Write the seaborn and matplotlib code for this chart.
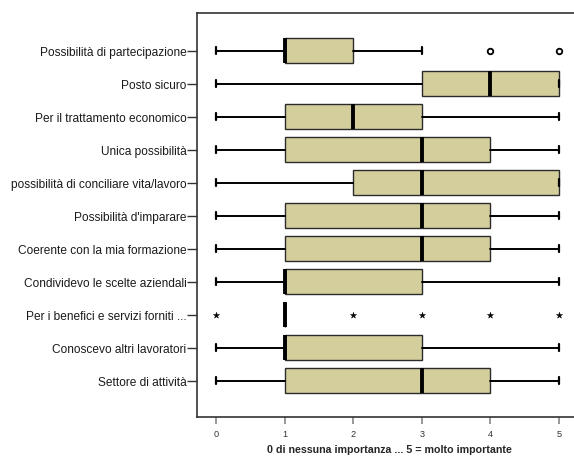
import matplotlib
matplotlib.use("Agg")
import matplotlib.pyplot as plt
import seaborn as sns

# Motivi della scelta del lavoro: sintesi a cinque numeri per ogni voce (scala 0-5)
categories = [
    "Possibilità di partecipazione",
    "Posto sicuro",
    "Per il trattamento economico",
    "Unica possibilità",
    "possibilità di conciliare vita/lavoro",
    "Possibilità d'imparare",
    "Coerente con la mia formazione",
    "Condividevo le scelte aziendali",
    "Per i benefici e servizi forniti ...",
    "Conoscevo altri lavoratori",
    "Settore di attività",
]
whisker_low = [0, 0, 0, 0, 0, 0, 0, 0, 1, 0, 0]
q1 = [1, 3, 1, 1, 2, 1, 1, 1, 1, 1, 1]
median = [1, 4, 2, 3, 3, 3, 3, 1, 1, 1, 3]
q3 = [2, 5, 3, 4, 5, 4, 4, 3, 1, 3, 4]
whisker_high = [3, 5, 5, 5, 5, 5, 5, 5, 1, 5, 5]
outliers = [[4, 5], [], [], [], [], [], [], [], [0, 2, 3, 4, 5], [], []]
outlier_marker = ["o", "o", "o", "o", "o", "o", "o", "o", "*", "o", "o"]

x_ticks = [0, 1, 2, 3, 4, 5]
x_label = "0 di nessuna importanza ... 5 = molto importante"

sns.set_theme(style="ticks")
plt.rcParams["font.family"] = ["Liberation Sans", "DejaVu Sans"]

fig = plt.figure(figsize=(5.74, 4.60), dpi=100)
ax = fig.add_axes([197 / 574, 42 / 460, 385 / 574, 404 / 460])

box_color = "#d3ce9b"
edge = "#2b2b2b"
positions = list(range(len(categories)))

stats = []
for i, name in enumerate(categories):
    stats.append(dict(
        label=name,
        whislo=whisker_low[i], q1=q1[i], med=median[i], q3=q3[i],
        whishi=whisker_high[i], fliers=[],
    ))

ax.bxp(
    stats, positions=positions, vert=False, widths=0.76, capwidths=0.22,
    patch_artist=True, showfliers=False,
    boxprops=dict(facecolor=box_color, edgecolor=edge, linewidth=1.0),
    medianprops=dict(color="black", linewidth=2.8, solid_capstyle="butt"),
    whiskerprops=dict(color="black", linewidth=1.4),
    capprops=dict(color="black", linewidth=1.6),
)

# valori anomali
for i, pts in enumerate(outliers):
    if not pts:
        continue
    if outlier_marker[i] == "o":
        ax.scatter(pts, [positions[i]] * len(pts), s=16, marker="o",
                   facecolors="white", edgecolors="black", linewidths=1.3,
                   zorder=4, clip_on=False)
    else:
        ax.scatter(pts, [positions[i]] * len(pts), s=22, marker="*",
                   color="black", linewidths=0.3, zorder=4, clip_on=False)

ax.set_xlim(-0.277, 5.335)
ax.set_ylim(10 + 1.098, -1.143)

ax.set_yticks(positions)
ax.set_yticklabels(categories, fontsize=8.6, color="#1a1a1a")
ax.set_xticks(x_ticks)
ax.set_xticklabels([str(t) for t in x_ticks], fontsize=6.6, color="#333333")
ax.tick_params(axis="y", length=7.2, width=1.0, color="#333333", pad=0.5)
ax.tick_params(axis="x", length=5.2, width=1.2, color="#888888", pad=3.5)

ax.set_xlabel(x_label, fontsize=7.7, fontweight="bold", labelpad=4)
ax.set_ylabel("")

for side in ["left", "top", "bottom"]:
    ax.spines[side].set_color("#333333")
    ax.spines[side].set_linewidth(1.2)
ax.spines["right"].set_visible(False)
ax.grid(False)
ax.set_facecolor("white")

fig.savefig("out.png", dpi=100)
